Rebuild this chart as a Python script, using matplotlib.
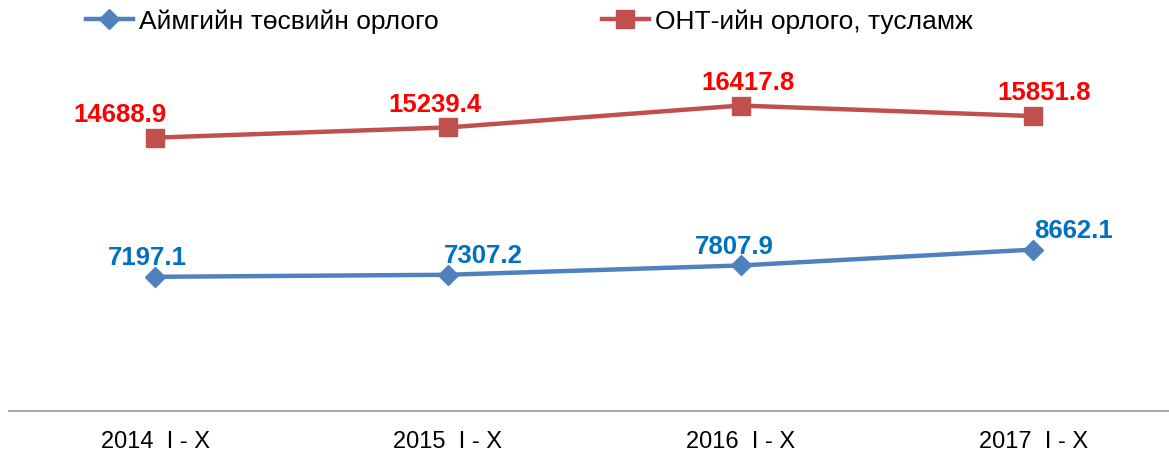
import matplotlib.pyplot as plt

# Өгөгдөл
periods = ['2014  I - X', '2015  I - X', '2016  I - X', '2017  I - X']
aimag_orlogo = [7197.1, 7307.2, 7807.9, 8662.1]
ont_orlogo = [14688.9, 15239.4, 16417.8, 15851.8]

plt.rcParams['font.family'] = ['Liberation Sans', 'DejaVu Sans']

fig = plt.figure(figsize=(11.69, 4.52), dpi=100)
ax = fig.add_axes([9 / 1169, 1 - 411.5 / 452, 1 - 9 / 1169, 371.5 / 452])

x = range(len(periods))
ax.plot(x, aimag_orlogo, color='#4F81BD', lw=3.2, marker='D', ms=10,
        label='Аймгийн төсвийн орлого')
ax.plot(x, ont_orlogo, color='#C0504D', lw=3.2, marker='s', ms=13,
        label='ОНТ-ийн орлого, тусламж')

# Утгын шошгууд
blue_dx = [-8, 35, -6, 40]
red_dx = [-35, -13, 7, 11]
for i, v in enumerate(aimag_orlogo):
    ax.annotate(f'{v:.1f}', (i, v), xytext=(blue_dx[i] * 0.72, 14),
                textcoords='offset points', ha='center', va='center',
                color='#0070C0', fontsize=18.5, fontweight='bold')
for i, v in enumerate(ont_orlogo):
    ax.annotate(f'{v:.1f}', (i, v), xytext=(red_dx[i] * 0.72, 17),
                textcoords='offset points', ha='center', va='center',
                color='#FF0000', fontsize=18.5, fontweight='bold')

ax.set_xlim(-0.5, (1169 - 155) / 292.7)
ax.set_ylim(0, 20000)
ax.set_xticks(list(x))
ax.set_xticklabels(periods, fontsize=17)
ax.tick_params(axis='x', length=0, pad=14)
ax.set_yticks([])
for s in ['top', 'right', 'left']:
    ax.spines[s].set_visible(False)
ax.spines['bottom'].set_color('#A0A0A0')
ax.spines['bottom'].set_linewidth(1.3)

fig.legend(loc='center', bbox_to_anchor=(529 / 1169, 1 - 22 / 452), ncol=2,
           frameon=False, fontsize=19, handlelength=1.8, columnspacing=6.2,
           handletextpad=0.2)

fig.savefig('out.png', dpi=100)
